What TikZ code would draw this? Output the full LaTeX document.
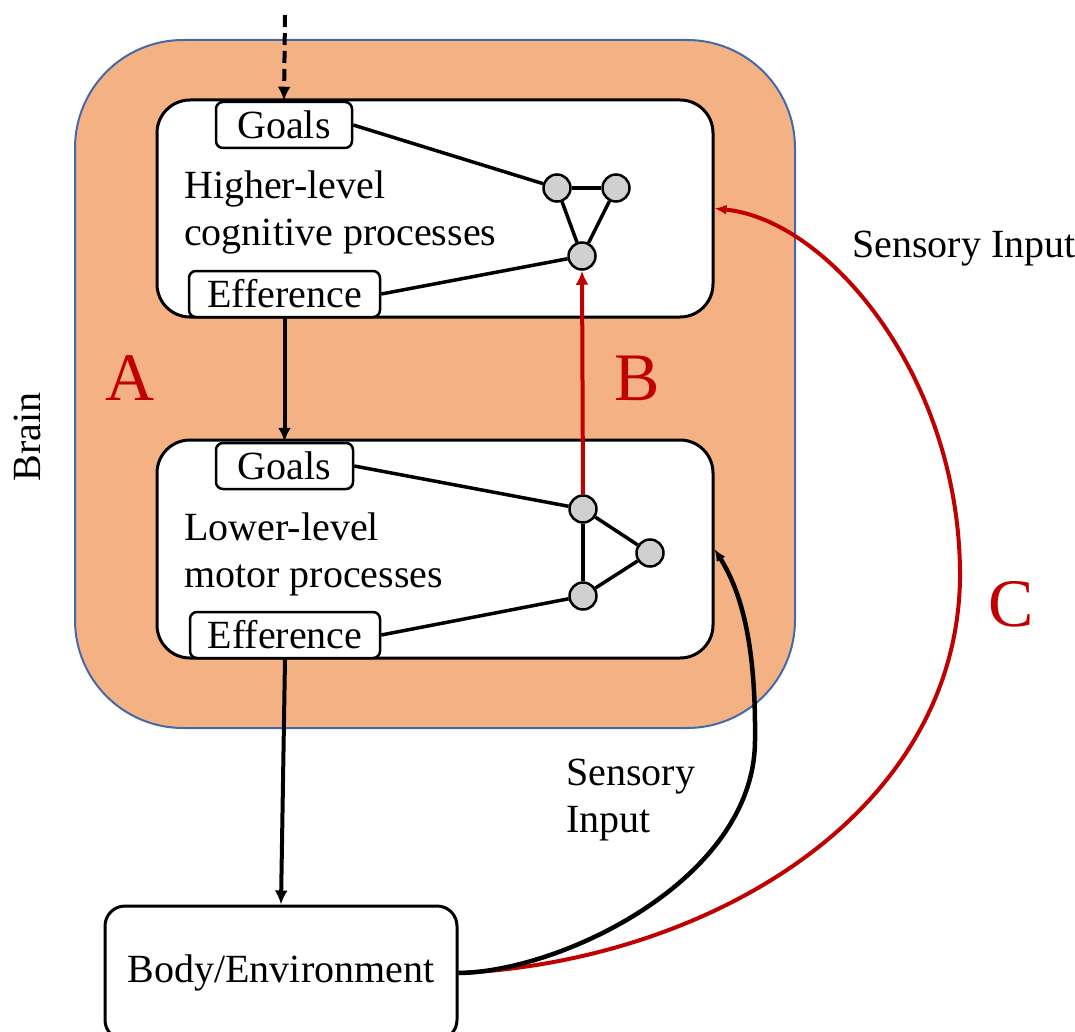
\documentclass[tikz,border=0pt]{standalone}
\usepackage{fontspec}
\setmainfont{Liberation Serif}
\newfontfamily\timesface{Liberation Serif}
\usetikzlibrary{arrows.meta}
\definecolor{brainfill}{HTML}{F4B183}
\definecolor{brainline}{HTML}{4468A8}
\definecolor{redc}{HTML}{C00000}
\definecolor{nodegray}{HTML}{D0D0D0}
\begin{document}
\begin{tikzpicture}[x=1pt,y=-1pt,
  txt/.style={font=\timesface\fontsize{40}{47}\selectfont, inner sep=0pt},
  brainbox/.style={draw=brainline, fill=brainfill, line width=2pt, rounded corners=108pt, minimum width=720pt, minimum height=688pt, inner sep=0pt},
  level/.style={draw=black, line width=3pt, fill=white, rounded corners=33pt, minimum width=556pt, minimum height=217pt, inner sep=0pt},
  tag/.style={draw=black, line width=2.5pt, fill=white, rounded corners=7pt, inner sep=0pt, minimum height=46pt, font=\timesface\fontsize{40}{47}\selectfont},
  dot/.style={circle, draw=black, line width=2.5pt, fill=nodegray, minimum size=27pt, inner sep=0pt},
  link/.style={line width=3.5pt, draw=black},
  flow/.style={line width=4pt, -{Latex[length=14pt,width=13pt]}},
  curvy/.style={line width=4pt, -{Latex[length=12pt,width=10pt]}},
  big/.style={font=\timesface\fontsize{68}{80}\selectfont, text=redc, inner sep=0pt}
]
\useasboundingbox (0,0) rectangle (1075,1032);
\clip (0,0) rectangle (1075,1032);

% brain region
\node[brainbox] (brain) at (435,384) {};
\node[txt, rotate=90] (brainlbl) at (27,437) {Brain};
\node[big] (A) at (130,378) {A};
\node[big] (B) at (637,378) {B};
\node[big] (C) at (1011,604) {C};

% higher level
\node[level] (hi) at (435,208.5) {};
\node[tag, minimum width=136pt] (hg) at (284,125) {Goals};
\node[tag, minimum width=191pt] (he) at (284.5,294) {Efference};
\node[txt, anchor=west, align=left] (htxt) at (184,212) {Higher-level\\cognitive processes};
\node[dot] (n1) at (557,188) {};
\node[dot] (n2) at (616,188) {};
\node[dot] (n3) at (582,256) {};
\draw[link] (hg.east) -- (n1);
\draw[link] (n1) -- (n2);
\draw[link] (n1) -- (n3);
\draw[link] (n2) -- (n3);
\draw[link] (he.east) -- (n3);

% lower level
\node[level, minimum height=218pt] (lo) at (435,549) {};
\node[tag, minimum width=137pt] (lg) at (284.5,466) {Goals};
\node[tag, minimum width=190pt] (le) at (285,635) {Efference};
\node[txt, anchor=west, align=left] (ltxt) at (184,554) {Lower-level\\motor processes};
\node[dot] (m1) at (583,509) {};
\node[dot] (m2) at (650,553) {};
\node[dot] (m3) at (583,596) {};
\draw[link] (lg.east) -- (m1);
\draw[link] (m1) -- (m2);
\draw[link] (m1) -- (m3);
\draw[link] (m2) -- (m3);
\draw[link] (le.east) -- (m3);

% body / environment
\node[draw=black, line width=3pt, fill=white, rounded corners=20pt, minimum width=352pt, minimum height=134pt, inner sep=0pt, font=\timesface\fontsize{40}{47}\selectfont] (body) at (281,973) {Body/Environment};

% labels
\node[txt, anchor=base west] (si1) at (852,257) {Sensory Input};
\node[txt, anchor=west, align=left] (si2) at (566,800) {Sensory\\Input};

% arrows
\coordinate (topin) at (285,15);
\draw[flow, dash pattern=on 12pt off 6pt] (topin) -- (hg.north);
\draw[flow] (he.south) -- (lg.north);
\draw[flow] (le.south) -- (body.north);
\draw[flow, redc] (m1.north) -- (n3.south);
\draw[curvy, redc] (body.east) .. controls (700,962) and (955,820) .. (960,580) .. controls (962,380) and (830,220) .. (hi.east);
\draw[curvy, black, line width=4.5pt] (body.east) .. controls (560,972) and (755,880) .. (755,740) .. controls (756,640) and (740,590) .. (lo.east);
\end{tikzpicture}
\end{document}
